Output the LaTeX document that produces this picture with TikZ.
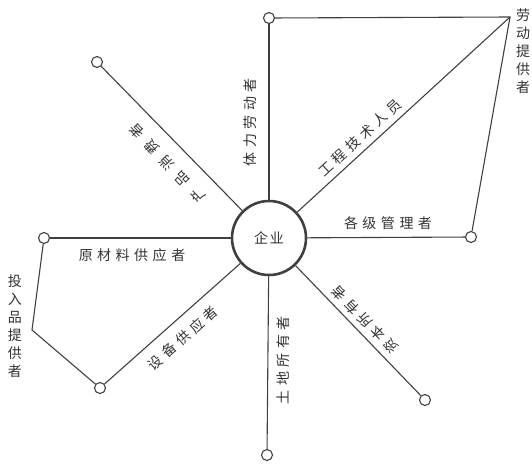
\documentclass[tikz,border=0pt]{standalone}
\usepackage{fontspec}
\setmainfont{Noto Sans CJK SC}
\def\g{\kern4.5pt}
\def\gg{\kern8pt}
\begin{document}
\begin{tikzpicture}[x=1pt,y=-1pt,
  ln/.style={draw=black!75, line width=1.1pt},
  tip/.style={circle, draw=black!75, line width=1.1pt, fill=white, minimum size=11pt, inner sep=0pt},
  hub/.style={circle, draw=black!75, line width=2.6pt, minimum size=74pt, inner sep=0pt, font=\fontsize{14}{14}\selectfont, text=black!80},
  lab/.style={text=black!80, font=\fontsize{14}{14}\selectfont, inner sep=0pt},
  vlab/.style={text=black!80, font=\fontsize{14}{18}\selectfont, inner sep=0pt, align=center}
]
\useasboundingbox (0,0) rectangle (532,464);
\node[hub] (c) at (269,238) {企\kern2pt 业};
\node[tip] (t) at (269,18) {};
\node[tip] (ul) at (97,62) {};
\node[tip] (l) at (44,238) {};
\node[tip] (bl) at (100,388) {};
\node[tip] (b) at (267,455) {};
\node[tip] (br) at (425,400) {};
\node[tip] (r) at (471,237) {};
\coordinate (k) at (510,17);
\coordinate (bend) at (32,330);

\draw[ln] (c) -- (t);
\draw[ln] (c) -- (ul);
\draw[ln] (c) -- (l);
\draw[ln] (c) -- (bl);
\draw[ln] (c) -- (b);
\draw[ln] (c) -- (br);
\draw[ln] (c) -- (r);
\draw[ln] (c) -- (k);
\draw[ln] (t) -- (k) -- (r);
\draw[ln] (l) -- (bend) -- (bl);

\node[lab, rotate=90] (lt) at (250,122) {体\g 力\g 劳\g 动\g 者};
\node[lab, rotate=134] (lul) at (167,163) {产\gg 品\gg 消\gg 费\gg 者};
\node[lab] (ll) at (132,255) {原\g 材\g 料\g 供\g 应\g 者};
\node[lab] (lr) at (388,223) {各\g 级\g 管\g 理\g 者};
\node[lab, rotate=42.5] (lk) at (360,138) {工\g 程\g 技\g 术\g 人\g 员};
\node[lab, rotate=41.6] (lbl) at (183,338) {设\g 备\g 供\g 应\g 者};
\node[lab, rotate=90] (lb) at (283,360) {土\g 地\g 所\g 有\g 者};
\node[lab, rotate=134] (lbr) at (365,320) {资\g 本\g 所\g 有\g 者};
\node[vlab] (lin) at (15,326) {投\\入\\品\\提\\供\\者};
\node[vlab] (lout) at (523,51) {劳\\动\\提\\供\\者};
\end{tikzpicture}
\end{document}
